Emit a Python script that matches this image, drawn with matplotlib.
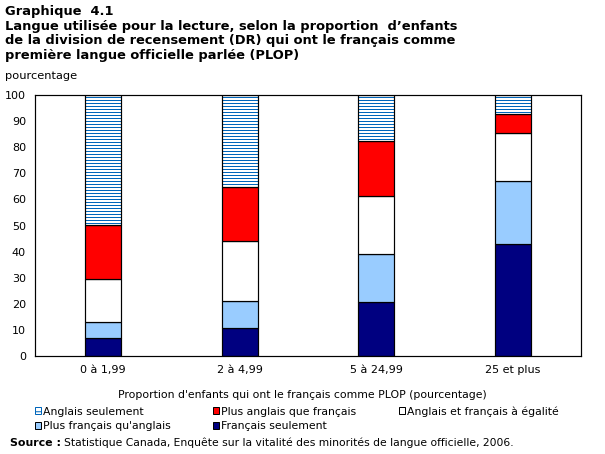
import numpy as np
import matplotlib
matplotlib.use("Agg")
from matplotlib import pyplot as plt
from matplotlib.patches import Patch

# categories (proportion of children with French as FOLS)
categories = ["0 à 1,99", "2 à 4,99", "5 à 24,99", "25 et plus"]

# stacked shares, bottom to top
francais_seul = [6.9, 10.6, 20.6, 42.8]
plus_fr_qu_ang = [6.1, 10.3, 18.4, 24.1]
egalite = [16.4, 23.0, 22.2, 18.4]
plus_ang_que_fr = [20.7, 20.7, 21.1, 7.3]
anglais_seul = [49.9, 35.4, 17.7, 7.4]

yticks = list(range(0, 101, 10))

DPI = 108  # hatch tile is one inch: 108 px / 36 lines = crisp 3 px stripes
W, H = 605, 454

def px(n):
	# pixels -> points
	return n * 72.0 / DPI

def fs(p):
	# font size given as if at 100 dpi
	return p * 100.0 / DPI

plt.rcParams['font.family'] = ['DejaVu Sans']
plt.rcParams['hatch.linewidth'] = px(1.0)

fig = plt.figure(figsize=((W + 0.01) / DPI, (H + 0.01) / DPI), dpi=DPI)
ax = fig.add_axes([35/W, 1 - 356/H, 546/W, 261/H])

x = np.arange(len(categories))
w = 0.264
bottom = np.zeros(len(categories))

series = [
	(francais_seul, "#000080"),
	(plus_fr_qu_ang, "#99ccff"),
	(egalite, "#ffffff"),
	(plus_ang_que_fr, "#ff0000"),
]
for vals, col in series:
	ax.bar(x, vals, w, bottom=bottom, color=col, edgecolor="black", linewidth=px(1.2), zorder=2)
	bottom += np.array(vals)

# hatched top segment: blue lines, then black outline on top
ax.bar(x, anglais_seul, w, bottom=bottom, color="white", edgecolor="#0066bb",
	hatch="------", linewidth=0, zorder=2)
ax.bar(x, anglais_seul, w, bottom=bottom, fill=False, edgecolor="black", linewidth=px(1.2), zorder=3)

ax.set_xlim(-0.5, len(categories) - 0.5)
ax.set_ylim(0, 100)
ax.set_yticks(yticks)
ax.set_xticks(x)
ax.set_xticklabels(categories)
ax.tick_params(axis="both", length=0, labelsize=fs(8.0))
ax.tick_params(axis="y", pad=px(9))
ax.tick_params(axis="x", pad=px(9))
for s in ax.spines.values():
	s.set_linewidth(px(1.2))
	s.set_color("black")

ax.set_xlabel("Proportion d'enfants qui ont le français comme PLOP (pourcentage)",
	fontsize=fs(7.8), va="center")
ax.xaxis.set_label_coords((302 - 35) / 546, -(395 - 356) / 261)

fig.text(5/W, 1 - 5/H, "Graphique  4.1\nLangue utilisée pour la lecture, selon la proportion  d\u2019enfants\n"
	"de la division de recensement (DR) qui ont le français comme\npremière langue officielle parlée (PLOP)",
	fontsize=fs(9.35), fontweight="bold", va="top", ha="left", linespacing=1.17)
fig.text(5/W, 1 - 76/H, "pourcentage", fontsize=fs(8.2), va="center", ha="left")

# legend, reordered so it reads row by row
h_as = Patch(facecolor="white", edgecolor="#0066bb", hatch="----", linewidth=px(1))
h_paf = Patch(facecolor="#ff0000", edgecolor="black", linewidth=px(1))
h_afe = Patch(facecolor="white", edgecolor="black", linewidth=px(1))
h_pfa = Patch(facecolor="#99ccff", edgecolor="black", linewidth=px(1))
h_fs = Patch(facecolor="#000080", edgecolor="black", linewidth=px(1))
handles = [h_as, h_pfa, h_paf, h_fs, h_afe]
labels = ["Anglais seulement", "Plus français qu'anglais", "Plus anglais que français",
	"Français seulement", "Anglais et français à égalité"]
fig.legend(handles, labels, ncol=3, loc="upper left", bbox_to_anchor=(35/W, 1 - 406/H),
	frameon=False, fontsize=fs(7.8), handlelength=0.55, handleheight=0.55, handletextpad=0.2,
	columnspacing=3.9, labelspacing=0.45, borderpad=0, borderaxespad=0)

# source line: bold prefix then regular text
t = fig.text(10/W, 1 - 443/H, "Source :", fontsize=fs(7.9), fontweight="bold", va="center", ha="left")
fig.canvas.draw()
bb = t.get_window_extent()
fig.text((bb.x1 + 3) / W, 1 - 443/H,
	"Statistique Canada, Enquête sur la vitalité des minorités de langue officielle, 2006.",
	fontsize=fs(7.7), va="center", ha="left")

fig.savefig("out.png", dpi=DPI)
